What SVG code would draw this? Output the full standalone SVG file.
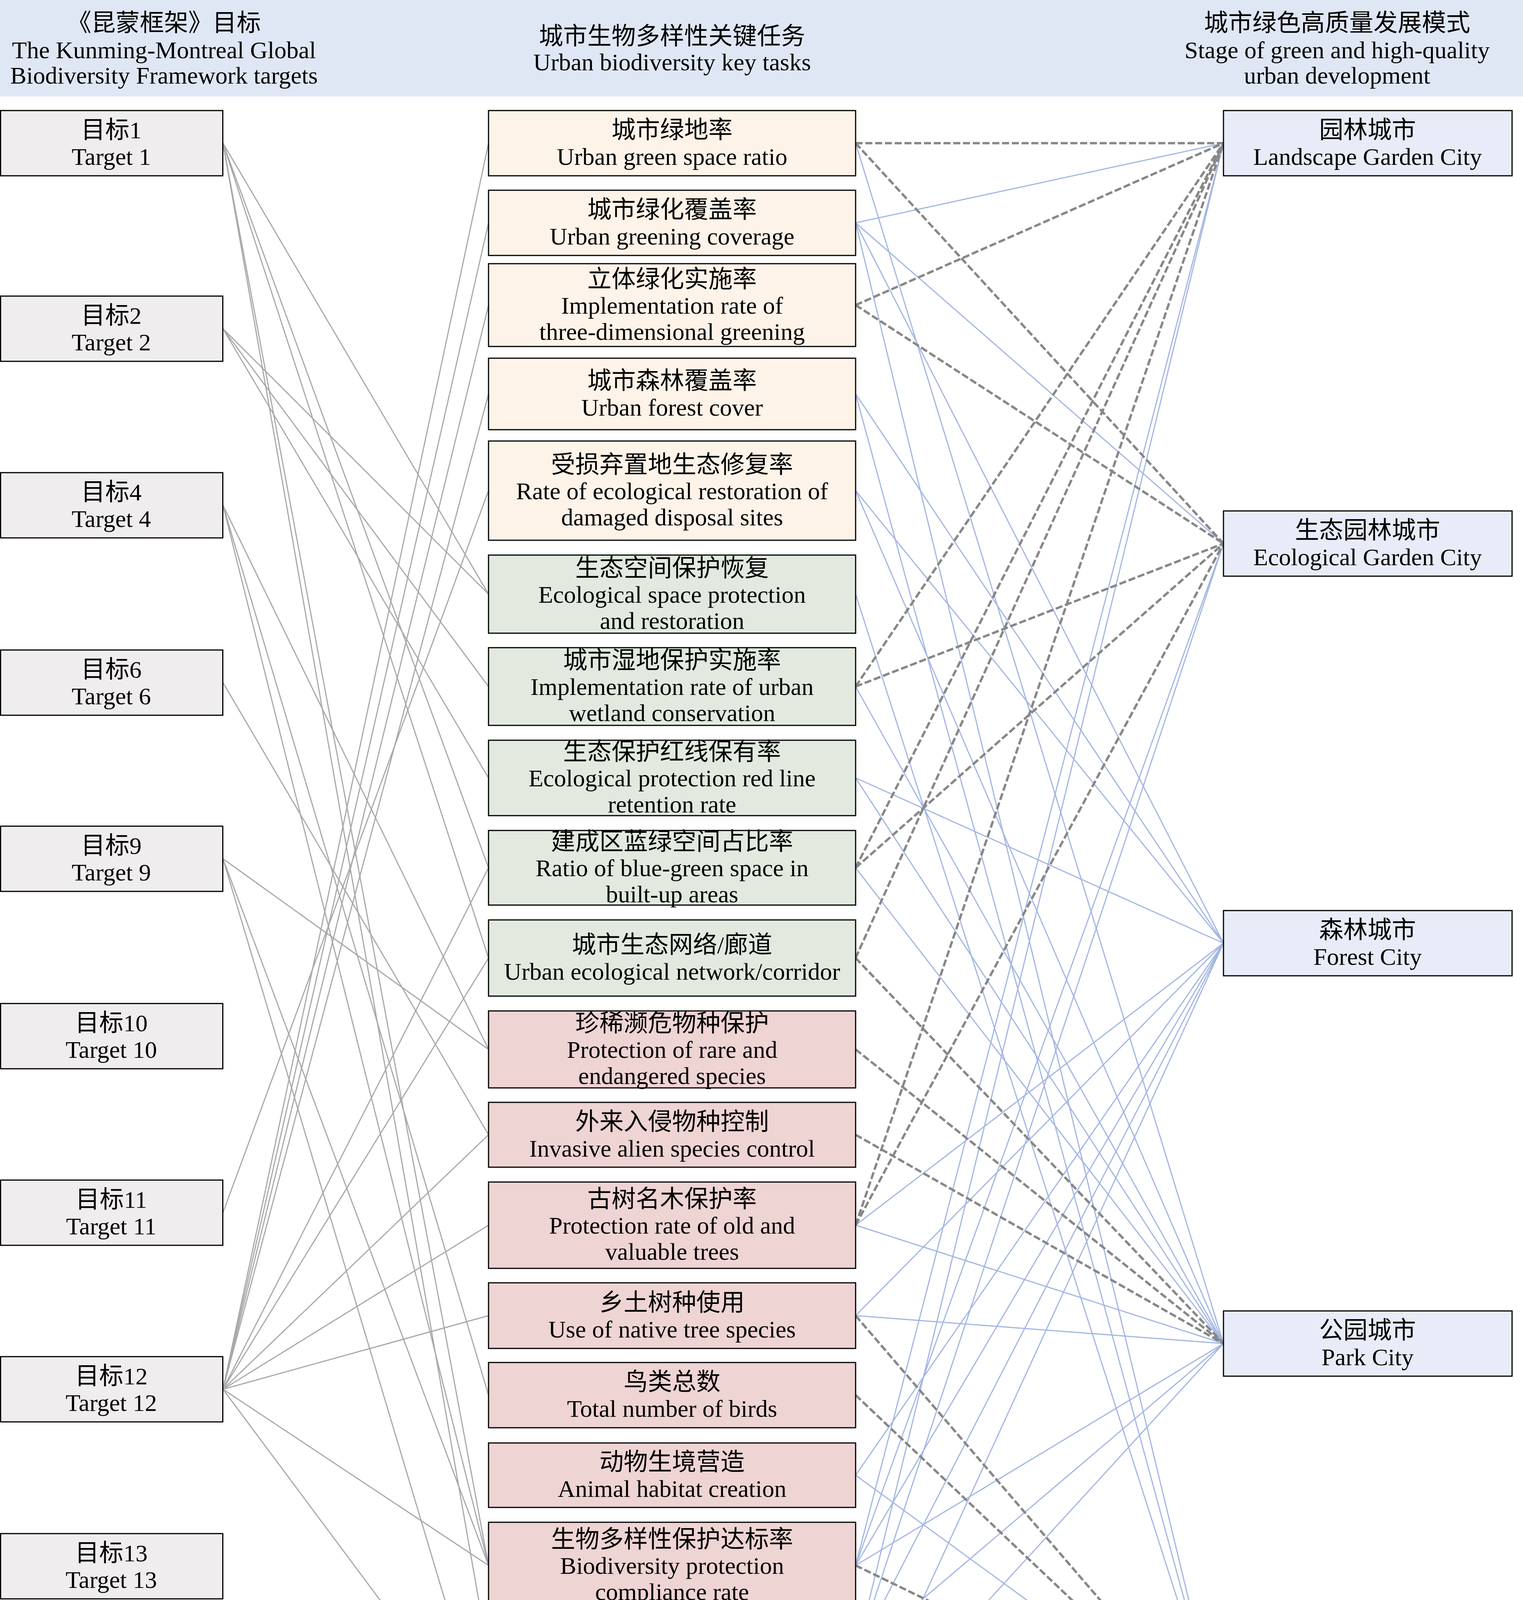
<svg xmlns="http://www.w3.org/2000/svg" width="3900" height="4973" viewBox="0 0 3900 4973">
<style>
text{font-family:"Liberation Serif","Noto Sans CJK SC",serif;font-size:62px;fill:#000;text-anchor:middle}
.lg{text-anchor:start}
.box{stroke:#000;stroke-width:3}
.tg{fill:#efedee}
.ls{fill:#fdf3e8}
.ec{fill:#e2eadf}
.sp{fill:#eed4d3}
.so{fill:#cde7ed}
.rt{fill:#e8ecf8}
.lk{stroke:#a9a9ab;stroke-width:3;fill:none}
.od{stroke:#878787;stroke-width:6;stroke-dasharray:18 7;fill:none}
.bl{stroke:#a3b6e3;stroke-width:3;fill:none}
</style>
<rect x="0" y="0" width="3900" height="247" fill="#dfe7f5"/>
<g id="header">
<text x="420" y="80">《昆蒙框架》目标</text>
<text x="420" y="149">The Kunming-Montreal Global</text>
<text x="420" y="214">Biodiversity Framework targets</text>
<text x="1721" y="114">城市生物多样性关键任务</text>
<text x="1721" y="180">Urban biodiversity key tasks</text>
<text x="3424" y="80">城市绿色高质量发展模式</text>
<text x="3424" y="149">Stage of green and high-quality</text>
<text x="3424" y="214">urban development</text>
</g>
<g id="connectors">
<g id="left-links" class="lk">
<line x1="571" y1="366.5" x2="1251" y2="1521"/>
<line x1="571" y1="366.5" x2="1251" y2="2221.5"/>
<line x1="571" y1="366.5" x2="1251" y2="2452.5"/>
<line x1="571" y1="366.5" x2="1251" y2="4007.5"/>
<line x1="571" y1="366.5" x2="1251" y2="4239.5"/>
<line x1="571" y1="841.5" x2="1251" y2="1521"/>
<line x1="571" y1="841.5" x2="1251" y2="1757.5"/>
<line x1="571" y1="841.5" x2="1251" y2="1991.5"/>
<line x1="571" y1="1293.5" x2="1251" y2="2686.5"/>
<line x1="571" y1="1293.5" x2="1251" y2="3571.5"/>
<line x1="571" y1="1293.5" x2="1251" y2="4007.5"/>
<line x1="571" y1="1747.5" x2="1251" y2="2905"/>
<line x1="571" y1="2198.5" x2="1251" y2="2686.5"/>
<line x1="571" y1="2198.5" x2="1251" y2="4007.5"/>
<line x1="571" y1="2198.5" x2="1251" y2="4469"/>
<line x1="571" y1="3104.5" x2="1251" y2="1256"/>
<line x1="571" y1="3556.5" x2="1251" y2="366.5"/>
<line x1="571" y1="3556.5" x2="1251" y2="570.5"/>
<line x1="571" y1="3556.5" x2="1251" y2="781"/>
<line x1="571" y1="3556.5" x2="1251" y2="1008.5"/>
<line x1="571" y1="3556.5" x2="1251" y2="2221.5"/>
<line x1="571" y1="3556.5" x2="1251" y2="2452.5"/>
<line x1="571" y1="3556.5" x2="1251" y2="2905"/>
<line x1="571" y1="3556.5" x2="1251" y2="3136.5"/>
<line x1="571" y1="3556.5" x2="1251" y2="3368"/>
<line x1="571" y1="3556.5" x2="1251" y2="4007.5"/>
<line x1="571" y1="3556.5" x2="1251" y2="4469"/>
</g>
<g id="bottom-line-links" class="bl">
<line x1="2191" y1="366.5" x2="3133" y2="3439.5"/>
<line x1="2191" y1="570.5" x2="3133" y2="366.5"/>
<line x1="2191" y1="570.5" x2="3133" y2="1391.5"/>
<line x1="2191" y1="570.5" x2="3133" y2="2414.5"/>
<line x1="2191" y1="570.5" x2="3133" y2="4463.5"/>
<line x1="2191" y1="1008.5" x2="3133" y2="2414.5"/>
<line x1="2191" y1="1008.5" x2="3133" y2="4463.5"/>
<line x1="2191" y1="1256" x2="3133" y2="2414.5"/>
<line x1="2191" y1="1256" x2="3133" y2="3439.5"/>
<line x1="2191" y1="1521" x2="3133" y2="4463.5"/>
<line x1="2191" y1="1757.5" x2="3133" y2="3439.5"/>
<line x1="2191" y1="1991.5" x2="3133" y2="2414.5"/>
<line x1="2191" y1="1991.5" x2="3133" y2="3439.5"/>
<line x1="2191" y1="2221.5" x2="3133" y2="3439.5"/>
<line x1="2191" y1="3136.5" x2="3133" y2="2414.5"/>
<line x1="2191" y1="3136.5" x2="3133" y2="3439.5"/>
<line x1="2191" y1="3368" x2="3133" y2="2414.5"/>
<line x1="2191" y1="3368" x2="3133" y2="3439.5"/>
<line x1="2191" y1="3776.5" x2="3133" y2="2414.5"/>
<line x1="2191" y1="3776.5" x2="3133" y2="4463.5"/>
<line x1="2191" y1="4007.5" x2="3133" y2="366.5"/>
<line x1="2191" y1="4007.5" x2="3133" y2="1391.5"/>
<line x1="2191" y1="4007.5" x2="3133" y2="2414.5"/>
<line x1="2191" y1="4007.5" x2="3133" y2="3439.5"/>
<line x1="2191" y1="4239.5" x2="3133" y2="366.5"/>
<line x1="2191" y1="4239.5" x2="3133" y2="1391.5"/>
<line x1="2191" y1="4239.5" x2="3133" y2="2414.5"/>
<line x1="2191" y1="4239.5" x2="3133" y2="3439.5"/>
<line x1="2191" y1="4239.5" x2="3133" y2="4463.5"/>
<line x1="2191" y1="4469" x2="3133" y2="2414.5"/>
<line x1="2191" y1="4469" x2="3133" y2="3439.5"/>
<line x1="2191" y1="4469" x2="3133" y2="4463.5"/>
</g>
<g id="orientation-links" class="od">
<line x1="2191" y1="366.5" x2="3133" y2="366.5"/>
<line x1="2191" y1="366.5" x2="3133" y2="1391.5"/>
<line x1="2191" y1="781" x2="3133" y2="366.5"/>
<line x1="2191" y1="781" x2="3133" y2="1391.5"/>
<line x1="2191" y1="1757.5" x2="3133" y2="366.5"/>
<line x1="2191" y1="1757.5" x2="3133" y2="1391.5"/>
<line x1="2191" y1="2221.5" x2="3133" y2="366.5"/>
<line x1="2191" y1="2221.5" x2="3133" y2="1391.5"/>
<line x1="2191" y1="2452.5" x2="3133" y2="366.5"/>
<line x1="2191" y1="2452.5" x2="3133" y2="3439.5"/>
<line x1="2191" y1="2686.5" x2="3133" y2="3439.5"/>
<line x1="2191" y1="2905" x2="3133" y2="3439.5"/>
<line x1="2191" y1="3136.5" x2="3133" y2="366.5"/>
<line x1="2191" y1="3136.5" x2="3133" y2="1391.5"/>
<line x1="2191" y1="3368" x2="3133" y2="4463.5"/>
<line x1="2191" y1="3571.5" x2="3133" y2="4463.5"/>
<line x1="2191" y1="4007.5" x2="3133" y2="4463.5"/>
</g>
</g>
<g id="target-1"><rect class="box tg" x="1.5" y="283" width="569" height="167"/><text x="285" y="354">目标1</text><text x="285" y="422">Target 1</text></g>
<g id="target-2"><rect class="box tg" x="1.5" y="758" width="569" height="167"/><text x="285" y="829">目标2</text><text x="285" y="897">Target 2</text></g>
<g id="target-4"><rect class="box tg" x="1.5" y="1210" width="569" height="167"/><text x="285" y="1281">目标4</text><text x="285" y="1349">Target 4</text></g>
<g id="target-6"><rect class="box tg" x="1.5" y="1664" width="569" height="167"/><text x="285" y="1735">目标6</text><text x="285" y="1803">Target 6</text></g>
<g id="target-9"><rect class="box tg" x="1.5" y="2115" width="569" height="167"/><text x="285" y="2186">目标9</text><text x="285" y="2254">Target 9</text></g>
<g id="target-10"><rect class="box tg" x="1.5" y="2569" width="569" height="167"/><text x="285" y="2640">目标10</text><text x="285" y="2708">Target 10</text></g>
<g id="target-11"><rect class="box tg" x="1.5" y="3021" width="569" height="167"/><text x="285" y="3092">目标11</text><text x="285" y="3160">Target 11</text></g>
<g id="target-12"><rect class="box tg" x="1.5" y="3473" width="569" height="167"/><text x="285" y="3544">目标12</text><text x="285" y="3612">Target 12</text></g>
<g id="target-13"><rect class="box tg" x="1.5" y="3926" width="569" height="167"/><text x="285" y="3997">目标13</text><text x="285" y="4065">Target 13</text></g>
<g id="target-14"><rect class="box tg" x="1.5" y="4379" width="569" height="167"/><text x="285" y="4450">目标14</text><text x="285" y="4518">Target 14</text></g>

<g id="task-1"><rect class="box ls" x="1251" y="283" width="940" height="167"/><text x="1721" y="354">城市绿地率</text><text x="1721" y="422">Urban green space ratio</text></g>
<g id="task-2"><rect class="box ls" x="1251" y="487" width="940" height="167"/><text x="1721" y="558">城市绿化覆盖率</text><text x="1721" y="626">Urban greening coverage</text></g>
<g id="task-3"><rect class="box ls" x="1251" y="675" width="940" height="212"/><text x="1721" y="736">立体绿化实施率</text><text x="1721" y="803">Implementation rate of</text><text x="1721" y="870">three-dimensional greening</text></g>
<g id="task-4"><rect class="box ls" x="1251" y="917" width="940" height="183"/><text x="1721" y="996">城市森林覆盖率</text><text x="1721" y="1064">Urban forest cover</text></g>
<g id="task-5"><rect class="box ls" x="1251" y="1129" width="940" height="254"/><text x="1721" y="1211">受损弃置地生态修复率</text><text x="1721" y="1278">Rate of ecological restoration of</text><text x="1721" y="1345">damaged disposal sites</text></g>
<g id="task-6"><rect class="box ec" x="1251" y="1421" width="940" height="200"/><text x="1721" y="1476">生态空间保护恢复</text><text x="1721" y="1543">Ecological space protection</text><text x="1721" y="1610">and restoration</text></g>
<g id="task-7"><rect class="box ec" x="1251" y="1658" width="940" height="199"/><text x="1721" y="1712">城市湿地保护实施率</text><text x="1721" y="1779">Implementation rate of urban</text><text x="1721" y="1846">wetland conservation</text></g>
<g id="task-8"><rect class="box ec" x="1251" y="1895" width="940" height="193"/><text x="1721" y="1946">生态保护红线保有率</text><text x="1721" y="2013">Ecological protection red line</text><text x="1721" y="2080">retention rate</text></g>
<g id="task-9"><rect class="box ec" x="1251" y="2126" width="940" height="191"/><text x="1721" y="2176">建成区蓝绿空间占比率</text><text x="1721" y="2243">Ratio of blue-green space in</text><text x="1721" y="2310">built-up areas</text></g>
<g id="task-10"><rect class="box ec" x="1251" y="2355" width="940" height="195"/><text x="1721" y="2440">城市生态网络/廊道</text><text x="1721" y="2508">Urban ecological network/corridor</text></g>
<g id="task-11"><rect class="box sp" x="1251" y="2588" width="940" height="197"/><text x="1721" y="2641">珍稀濒危物种保护</text><text x="1721" y="2708">Protection of rare and</text><text x="1721" y="2775">endangered species</text></g>
<g id="task-12"><rect class="box sp" x="1251" y="2822" width="940" height="166"/><text x="1721" y="2893">外来入侵物种控制</text><text x="1721" y="2961">Invasive alien species control</text></g>
<g id="task-13"><rect class="box sp" x="1251" y="3026" width="940" height="221"/><text x="1721" y="3091">古树名木保护率</text><text x="1721" y="3158">Protection rate of old and</text><text x="1721" y="3225">valuable trees</text></g>
<g id="task-14"><rect class="box sp" x="1251" y="3284" width="940" height="168"/><text x="1721" y="3356">乡土树种使用</text><text x="1721" y="3424">Use of native tree species</text></g>
<g id="task-15"><rect class="box sp" x="1251" y="3488" width="940" height="167"/><text x="1721" y="3559">鸟类总数</text><text x="1721" y="3627">Total number of birds</text></g>
<g id="task-16"><rect class="box sp" x="1251" y="3694" width="940" height="165"/><text x="1721" y="3764">动物生境营造</text><text x="1721" y="3832">Animal habitat creation</text></g>
<g id="task-17"><rect class="box sp" x="1251" y="3897" width="940" height="221"/><text x="1721" y="3962">生物多样性保护达标率</text><text x="1721" y="4029">Biodiversity protection</text><text x="1721" y="4096">compliance rate</text></g>
<g id="task-18"><rect class="box so" x="1251" y="4156" width="940" height="167"/><text x="1721" y="4227">城市公众满意率</text><text x="1721" y="4295">Urban public satisfaction rate</text></g>
<g id="task-19"><rect class="box so" x="1251" y="4361" width="940" height="216"/><text x="1721" y="4424">生态科普开展次数</text><text x="1721" y="4491">Number of ecological science</text><text x="1721" y="4558">popularization activities</text></g>

<g id="mode-1"><rect class="box rt" x="3133" y="283" width="739" height="167"/><text x="3502" y="354">园林城市</text><text x="3502" y="422">Landscape Garden City</text></g>
<g id="mode-2"><rect class="box rt" x="3133" y="1308" width="739" height="167"/><text x="3502" y="1379">生态园林城市</text><text x="3502" y="1447">Ecological Garden City</text></g>
<g id="mode-3"><rect class="box rt" x="3133" y="2331" width="739" height="167"/><text x="3502" y="2402">森林城市</text><text x="3502" y="2470">Forest City</text></g>
<g id="mode-4"><rect class="box rt" x="3133" y="3356" width="739" height="167"/><text x="3502" y="3427">公园城市</text><text x="3502" y="3495">Park City</text></g>
<g id="mode-5"><rect class="box rt" x="3133" y="4380" width="739" height="167"/><text x="3502" y="4451">花园城市</text><text x="3502" y="4519">Garden City</text></g>

<g id="legend">
<rect class="box ls" x="607" y="4658" width="115" height="62"/><text class="lg" x="772" y="4709">景观层面 Landscape level</text>
<rect class="box sp" x="1806" y="4658" width="115" height="62"/><text class="lg" x="1974" y="4709">物种层面 Species level</text>
<rect class="box ec" x="607" y="4785" width="115" height="62"/><text class="lg" x="772" y="4836">生态系统层面 Ecosystem level</text>
<rect class="box so" x="1806" y="4784" width="115" height="62"/><text class="lg" x="1974" y="4836">社会参与层面 Social participation level</text>
<line class="od" x1="565" y1="4939" x2="754" y2="4939"/><text class="lg" x="772" y="4962">导向型任务 Orientation tasks</text>
<line class="bl" x1="1778" y1="4939" x2="1956" y2="4939"/><text class="lg" x="1974" y="4962">底线型任务 Bottom-line tasks</text>
</g>
</svg>
